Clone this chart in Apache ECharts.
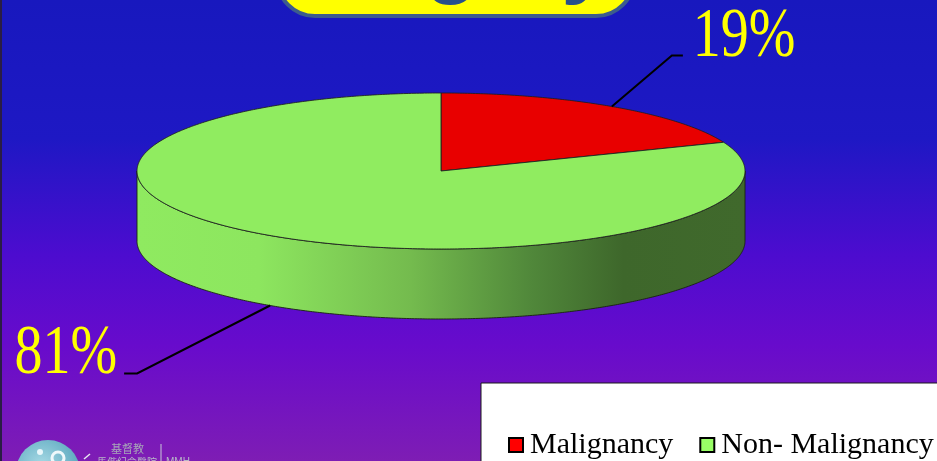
<!DOCTYPE html>
<html>
<head>
<meta charset="utf-8">
<title>Malignancy share</title>
<script src="https://cdn.jsdelivr.net/npm/echarts@6/dist/echarts.min.js"></script>
<style>
  html, body { margin: 0; padding: 0; background: #1818be; }
  #chart { width: 937px; height: 461px; }
</style>
</head>
<body>
<div id="chart"></div>
<script>
// Data
const categories = ['Malignancy', 'Non- Malignancy'];
const values = [19, 81];

// Styling per category
const topColors = ['#e80000', '#90ec60'];
const legendColors = ['#ff0000', '#99ff66'];
const sideFills = [
  '#9a0000',
  {
    type: 'linear', x: 137, y: 0, x2: 745, y2: 0, global: true,
    colorStops: [
      { offset: 0.0, color: '#8fea60' },
      { offset: 0.2, color: '#8de65f' },
      { offset: 0.45, color: '#74bb4e' },
      { offset: 0.65, color: '#50873a' },
      { offset: 0.8, color: '#3e672b' },
      { offset: 1.0, color: '#40692c' }
    ]
  }
];

// Tilted-disc geometry (pixels)
const PIE = { cx: 441, cy: 171, rx: 304, ry: 78, depth: 70 };

// Leader-line layout for each label
const labelLayout = [
  { anchor: 'top',    elbow: [60, -51],  arm: 11,  gap: 10, dy: -18, align: 'left' },
  { anchor: 'bottom', elbow: [-133, 68], arm: -13, gap: -7, dy: -19, align: 'right' }
];

const total = values.reduce((a, b) => a + b, 0);

// Point on the disc rim; angle in degrees clockwise from 12 o'clock
function rim(angle, drop) {
  const r = angle * Math.PI / 180;
  return [PIE.cx + PIE.rx * Math.sin(r), PIE.cy - PIE.ry * Math.cos(r) + drop];
}

function arcPoints(a0, a1, drop) {
  const pts = [];
  const step = 0.5;
  if (a1 >= a0) {
    for (let a = a0; a < a1; a += step) pts.push(rim(a, drop));
  } else {
    for (let a = a0; a > a1; a -= step) pts.push(rim(a, drop));
  }
  pts.push(rim(a1, drop));
  return pts;
}

function renderSlice(i) {
  let before = 0;
  for (let k = 0; k < i; k++) before += values[k];
  const start = before / total * 360;
  const end = (before + values[i]) / total * 360;
  const children = [];

  // front wall: only the part of the rim facing the viewer (90°..270°)
  const s0 = Math.max(start, 90), s1 = Math.min(end, 270);
  if (s1 > s0) {
    const pts = arcPoints(s0, s1, 0).concat(arcPoints(s1, s0, PIE.depth));
    children.push({
      type: 'polygon',
      shape: { points: pts },
      style: { fill: sideFills[i], stroke: 'rgba(25,35,15,0.9)', lineWidth: 1 },
      z2: 1
    });
  }

  // top face
  const topPts = [[PIE.cx, PIE.cy]].concat(arcPoints(start, end, 0));
  children.push({
    type: 'polygon',
    shape: { points: topPts },
    style: { fill: topColors[i], stroke: 'rgba(30,30,30,0.85)', lineWidth: 1 },
    z2: 5
  });

  // leader line and percentage label
  const L = labelLayout[i];
  const mid = (start + end) / 2;
  const p0 = rim(mid, L.anchor === 'top' ? 0 : PIE.depth);
  const p1 = [p0[0] + L.elbow[0], p0[1] + L.elbow[1]];
  const p2 = [p1[0] + L.arm, p1[1]];
  children.push({
    type: 'polyline',
    shape: { points: [p0, p1, p2] },
    style: { stroke: '#000', lineWidth: 2, fill: null },
    z2: 8
  });
  children.push({
    type: 'text',
    x: p2[0] + L.gap,
    y: p2[1] + L.dy,
    scaleY: 1.25,
    style: {
      text: Math.round(values[i] / total * 100) + '%',
      fill: '#ffff00',
      font: '56px "Liberation Serif", "Times New Roman", serif',
      align: L.align,
      verticalAlign: 'middle'
    },
    z2: 10
  });

  return { type: 'group', children: children };
}

const chart = echarts.init(document.getElementById('chart'), null, { renderer: 'canvas' });

chart.setOption({
  animation: false,
  backgroundColor: {
    type: 'linear', x: 0, y: 0, x2: 0, y2: 1,
    colorStops: [
      { offset: 0.0, color: '#1818be' },
      { offset: 0.3, color: '#1e18c4' },
      { offset: 0.55, color: '#4c0ccf' },
      { offset: 0.75, color: '#680bcc' },
      { offset: 1.0, color: '#7e1db4' }
    ]
  },
  legend: {
    data: categories.map((name, i) => ({
      name: name,
      itemStyle: { color: legendColors[i], borderColor: '#000', borderWidth: 2 }
    })),
    left: 481,
    top: 383,
    width: 520,
    orient: 'horizontal',
    icon: 'rect',
    itemWidth: 14,
    itemHeight: 14,
    itemGap: 26,
    padding: [47, 10, 40, 27],
    backgroundColor: '#ffffff',
    borderColor: '#1a1a1a',
    borderWidth: 1,
    textStyle: {
      fontFamily: '"Liberation Serif", "Times New Roman", serif',
      fontSize: 30,
      color: '#000',
      padding: [0, 0, 0, 2]
    }
  },
  graphic: [
    // thin dark frame on the left edge
    { type: 'rect', shape: { x: 0, y: 0, width: 2, height: 461 }, style: { fill: '#2a1d45' }, z: 20 },
    // title banner at the top
    {
      type: 'rect', z: 20,
      shape: { x: 277, y: -60, width: 357, height: 76, r: 40 },
      style: { fill: '#ffff00', stroke: '#3c5c8e', lineWidth: 4 }
    },
    {
      type: 'text', z: 21,
      x: 444, y: -37,
      style: {
        text: 'Surgery',
        fill: '#27508b',
        font: 'bold 88px "Liberation Sans", Arial, sans-serif',
        align: 'center',
        verticalAlign: 'middle'
      }
    },
    // hospital emblem, bottom-left
    {
      type: 'group', z: 20,
      children: [
        {
          type: 'circle',
          shape: { cx: 48, cy: 472, r: 32 },
          style: {
            fill: {
              type: 'radial', x: 0.4, y: 0.4, r: 0.7,
              colorStops: [
                { offset: 0, color: '#a9dbe6' },
                { offset: 1, color: '#4f9fb8' }
              ]
            }
          }
        },
        { type: 'circle', shape: { cx: 40, cy: 452, r: 3 }, style: { fill: '#e8f6fa' } },
        { type: 'circle', shape: { cx: 58, cy: 458, r: 6 }, style: { fill: 'none', stroke: '#eef8fb', lineWidth: 3 } },
        { type: 'line', shape: { x1: 84, y1: 459, x2: 90, y2: 454 }, style: { stroke: '#e6e6f0', lineWidth: 1.5 } },
        {
          type: 'text', x: 111, y: 443,
          style: { text: '基督教', fill: '#a8a8b8', font: '11px "Noto Sans CJK TC", sans-serif', align: 'left', verticalAlign: 'top' }
        },
        {
          type: 'text', x: 97, y: 457,
          style: { text: '馬偕紀念醫院', fill: '#b8b8c8', font: '10px "Noto Sans CJK TC", sans-serif', align: 'left', verticalAlign: 'top' }
        },
        { type: 'line', shape: { x1: 161, y1: 444, x2: 161, y2: 461 }, style: { stroke: '#c8c8d8', lineWidth: 1 } },
        {
          type: 'text', x: 166, y: 457,
          style: { text: 'MMH', fill: '#b8b8c8', font: '10px "Liberation Sans", sans-serif', align: 'left', verticalAlign: 'top' }
        }
      ]
    }
  ],
  series: categories.map((name, i) => ({
    type: 'custom',
    name: name,
    coordinateSystem: 'none',
    silent: true,
    itemStyle: { color: legendColors[i] },
    data: [values[i]],
    renderItem: () => renderSlice(i)
  }))
});
</script>
</body>
</html>
